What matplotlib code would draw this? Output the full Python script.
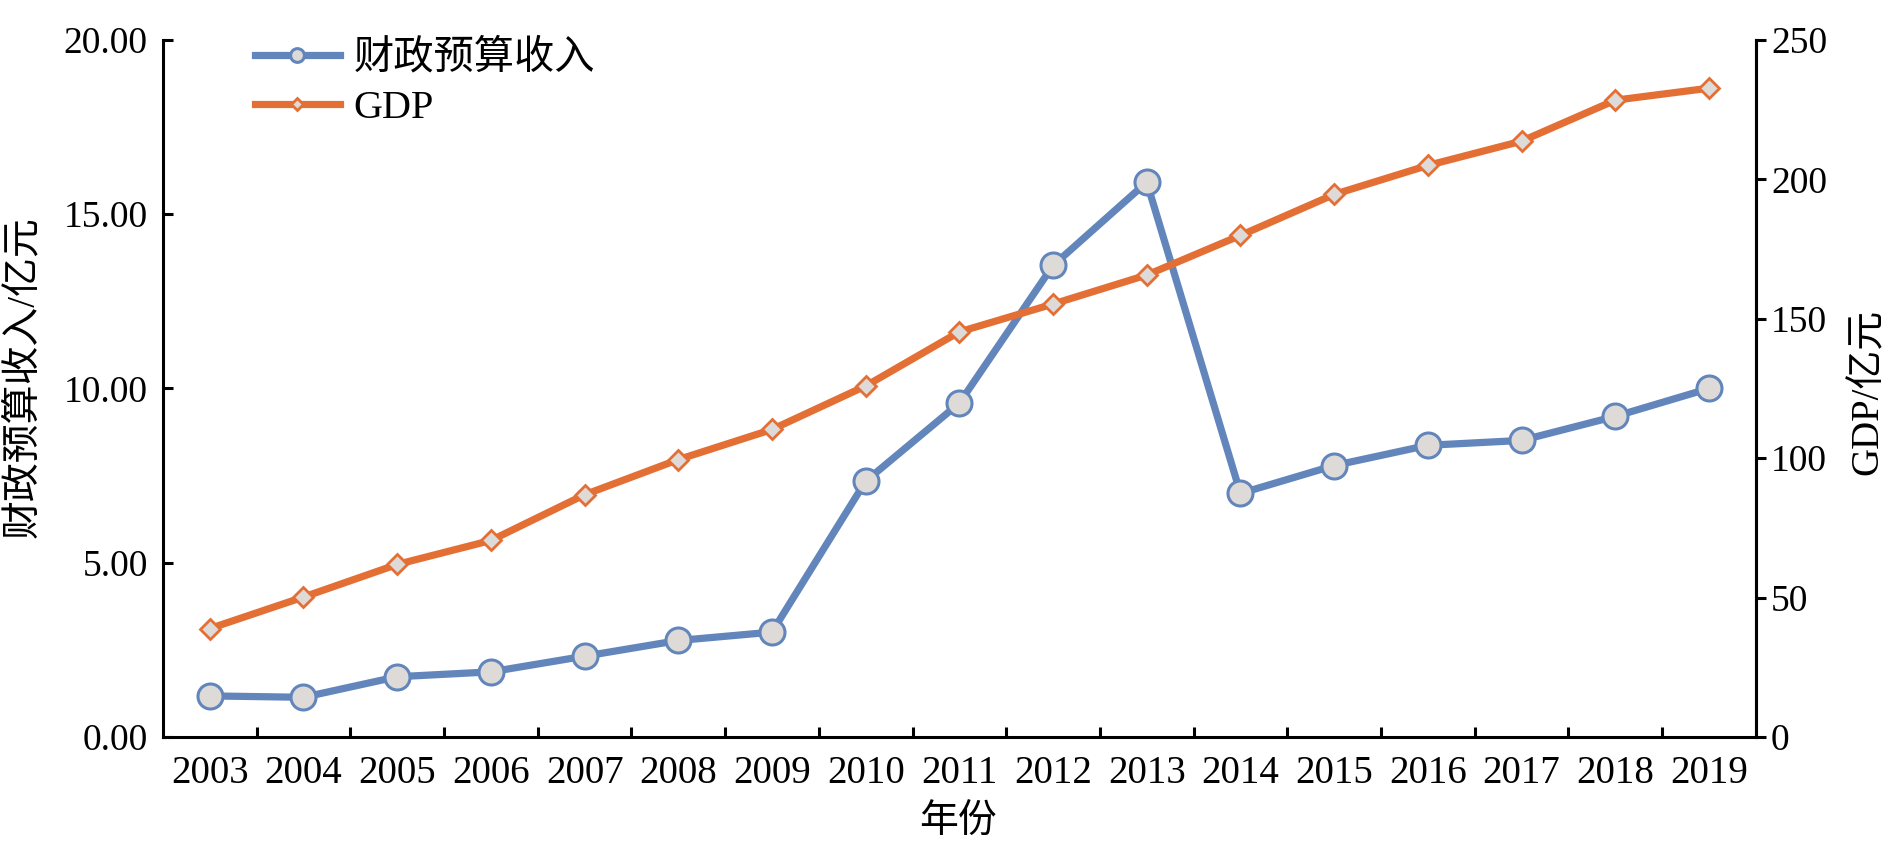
import numpy as np
import matplotlib
matplotlib.use('Agg')
import matplotlib.pyplot as plt
from matplotlib.ticker import FixedLocator, FormatStrFormatter


years = ['2003', '2004', '2005', '2006', '2007', '2008', '2009', '2010', '2011',
         '2012', '2013', '2014', '2015', '2016', '2017', '2018', '2019']
revenue = [1.18, 1.14, 1.73, 1.87, 2.32, 2.77, 3.01, 7.34, 9.58,
           13.53, 15.92, 6.99, 7.79, 8.37, 8.51, 9.20, 10.00]
gdp = [38.9, 50.2, 61.9, 70.5, 86.9, 99.5, 110.3, 125.9, 145.3,
       155.3, 165.7, 179.9, 194.6, 205.0, 213.7, 228.4, 232.7]

blue = '#6286bb'
orange = '#e46f35'
face = '#dedad7'

plt.rcParams['font.family'] = ['Liberation Serif', 'Noto Sans CJK SC']
plt.rcParams['axes.unicode_minus'] = False

fig = plt.figure(figsize=(18.9, 8.5), dpi=100)
ax = fig.add_axes([0.0862, 0.1329, 0.929 - 0.0862, 0.953 - 0.1329])
ax2 = ax.twinx()

xs = np.arange(len(years))
l1, = ax.plot(xs, revenue, color=blue, lw=5.2, marker='o', ms=18,
              mfc=face, mec=blue, mew=2.2, zorder=3, label='财政预算收入')
l2, = ax2.plot(xs, gdp, color=orange, lw=5.2, marker='D', ms=10.5,
               mfc=face, mec=orange, mew=2.0, zorder=3, label='GDP')

ax.set_xlim(-0.5, len(years) - 0.5)
ax.set_ylim(0, 20)
ax2.set_ylim(0, 250)

ax.set_xticks(xs)
ax.set_xticklabels(years)
ax.xaxis.set_minor_locator(FixedLocator(np.arange(0.5, len(years) - 1, 1.0)))
ax.tick_params(axis='x', which='major', length=0, pad=13, labelsize=28)
ax.tick_params(axis='x', which='minor', direction='in', length=7, width=2.2)

ax.set_yticks(np.arange(0, 20.1, 5))
ax.yaxis.set_major_formatter(FormatStrFormatter('%.2f'))
ax.tick_params(axis='y', direction='in', length=7, width=2.2, pad=11, labelsize=27)

ax2.set_yticks(np.arange(0, 251, 50))
ax2.tick_params(axis='y', direction='out', length=7, width=2.2, pad=4, labelsize=27)

for a in (ax, ax2):
    a.spines['top'].set_visible(False)
    for s in ('left', 'right', 'bottom'):
        a.spines[s].set_linewidth(2.2)
        a.spines[s].set_color('black')
ax2.spines['left'].set_visible(False)
ax2.spines['bottom'].set_visible(False)

fig.text(24 / 1890, 1 - 377 / 850, '财政预算收入/亿元', rotation=90,
         ha='center', va='center', fontsize=28)
fig.text(1868 / 1890, 1 - 392 / 850, 'GDP/亿元', rotation=90,
         ha='center', va='center', fontsize=28)
fig.text(958 / 1890, 1 - 822 / 850, '年份', ha='center', va='center', fontsize=28)

fig.legend(handles=[l1, l2], loc='upper left', bbox_to_anchor=(255 / 1890, 1 - 40 / 850),
           frameon=False, fontsize=29, markerscale=0.55, handlelength=2.1,
           handletextpad=0.35, labelspacing=0.3, borderpad=0, borderaxespad=0)

fig.savefig('out.png', dpi=100)
